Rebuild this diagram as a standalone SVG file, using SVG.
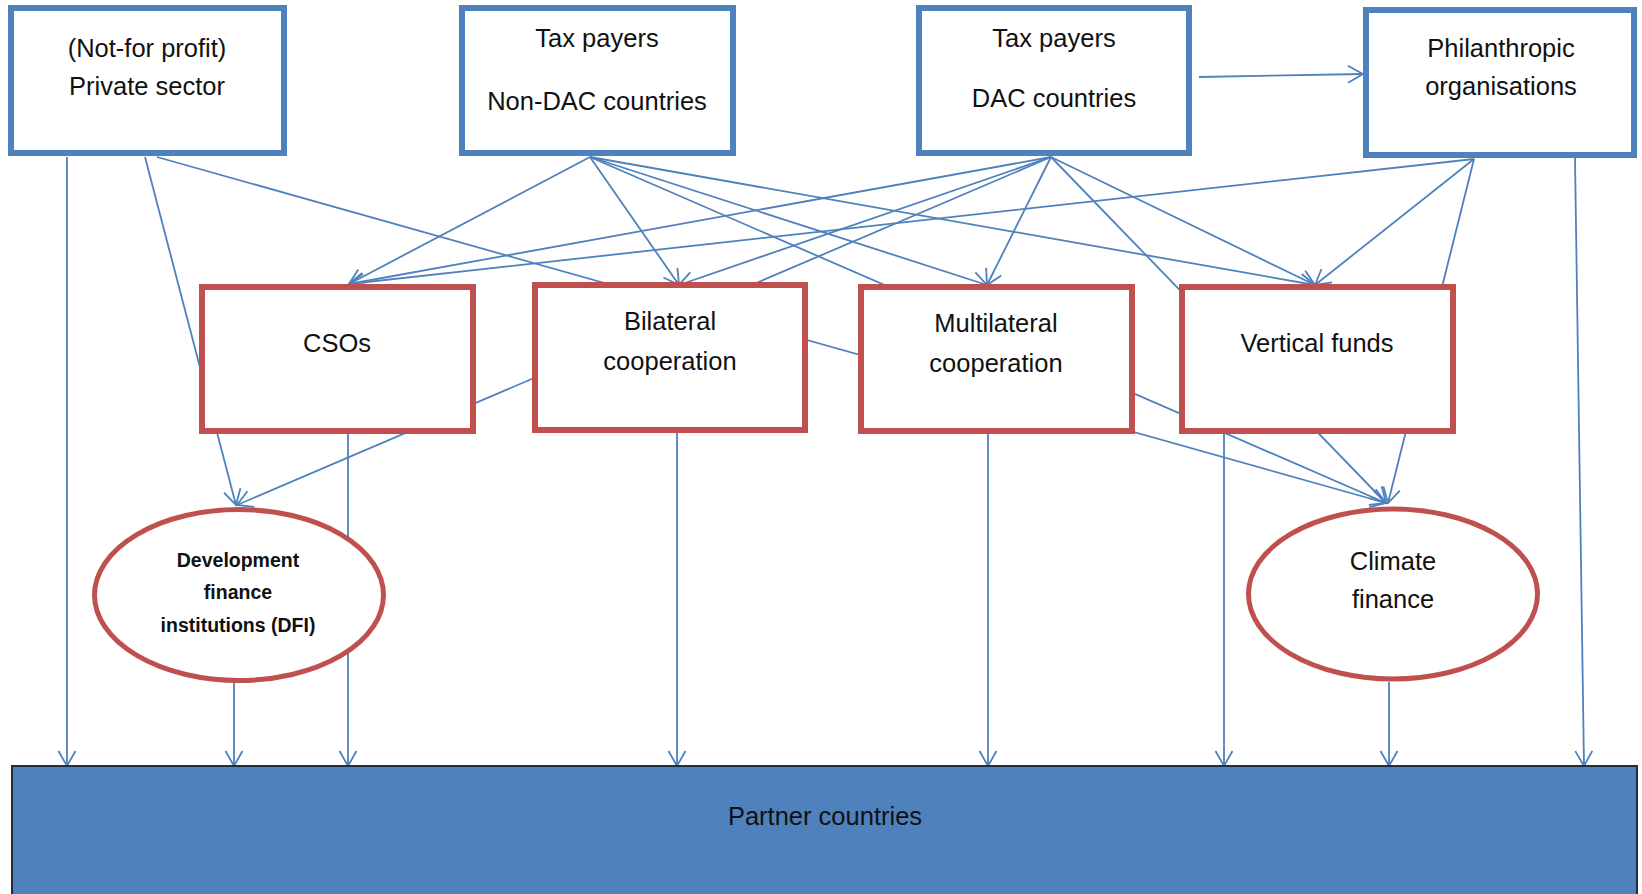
<svg xmlns="http://www.w3.org/2000/svg" width="1642" height="894" viewBox="0 0 1642 894">
<style>
.bg{fill:#ffffff}
.src{fill:#ffffff;stroke:#4F81BD;stroke-width:6}
.mid{fill:#ffffff;stroke:#C0504D;stroke-width:6}
.oval{fill:#ffffff;stroke:#C0504D;stroke-width:5}
.partner{fill:#4F81BD;stroke:#1F2D3D;stroke-width:2}
.c{fill:none;stroke:#4F81BD;stroke-width:1.8}
.a{marker-end:url(#arr)}
text{font-family:"Liberation Sans",Arial,sans-serif;font-size:25.5px;fill:#111111;text-anchor:middle}
.small{font-size:19.5px;font-weight:bold}
</style>
<defs>
<marker id="arr" markerUnits="userSpaceOnUse" markerWidth="18" markerHeight="20" viewBox="0 0 18 20" refX="16" refY="10" orient="auto">
<path d="M1,1.5 L16,10 L1,18.5" fill="none" stroke="#4F81BD" stroke-width="1.8"/>
</marker>
</defs>
<rect class="bg" x="0" y="0" width="1642" height="894"/>
<g id="connectors">
<line class="c a" x1="67" y1="157" x2="67" y2="766"/>
<line class="c a" x1="145" y1="157" x2="236" y2="505"/>
<line class="c a" x1="157" y1="157" x2="1386" y2="503"/>
<line class="c a" x1="590" y1="157" x2="349" y2="284"/>
<line class="c a" x1="590" y1="157" x2="679" y2="285"/>
<line class="c a" x1="590" y1="157" x2="987" y2="285"/>
<line class="c a" x1="590" y1="157" x2="1315" y2="285"/>
<line class="c a" x1="590" y1="157" x2="1386" y2="503"/>
<line class="c a" x1="1051" y1="157" x2="349" y2="284"/>
<line class="c a" x1="1051" y1="157" x2="679" y2="285"/>
<line class="c a" x1="1051" y1="157" x2="237" y2="505"/>
<line class="c a" x1="1051" y1="157" x2="987" y2="285"/>
<line class="c a" x1="1051" y1="157" x2="1315" y2="285"/>
<line class="c a" x1="1051" y1="157" x2="1386" y2="503"/>
<line class="c a" x1="1199" y1="77" x2="1363" y2="74"/>
<line class="c a" x1="1474" y1="159" x2="349" y2="284"/>
<line class="c a" x1="1474" y1="159" x2="1315" y2="285"/>
<line class="c a" x1="1474" y1="159" x2="1388" y2="503"/>
<line class="c a" x1="1575" y1="158" x2="1584" y2="766"/>
<line class="c a" x1="348" y1="434" x2="348" y2="766"/>
<line class="c a" x1="234" y1="683" x2="234" y2="766"/>
<line class="c a" x1="677" y1="433" x2="677" y2="766"/>
<line class="c a" x1="988" y1="434" x2="988" y2="766"/>
<line class="c a" x1="1224" y1="434" x2="1224" y2="766"/>
<line class="c a" x1="1389" y1="682" x2="1389" y2="766"/>
</g>
<g id="private-sector">
<rect class="src" x="11" y="8" width="273" height="145"/>
<text x="147" y="57">(Not-for profit)</text>
<text x="147" y="95">Private sector</text>
</g>
<g id="taxpayers-non-dac">
<rect class="src" x="462" y="8" width="271" height="145"/>
<text x="597" y="47">Tax payers</text>
<text x="597" y="110">Non-DAC countries</text>
</g>
<g id="taxpayers-dac">
<rect class="src" x="919" y="8" width="270" height="145"/>
<text x="1054" y="47">Tax payers</text>
<text x="1054" y="107">DAC countries</text>
</g>
<g id="philanthropic">
<rect class="src" x="1366" y="10" width="268" height="145"/>
<text x="1501" y="57">Philanthropic</text>
<text x="1501" y="95">organisations</text>
</g>
<g id="csos">
<rect class="mid" x="202" y="287" width="271" height="144"/>
<text x="337" y="352">CSOs</text>
</g>
<g id="bilateral">
<rect class="mid" x="535" y="285" width="270" height="145"/>
<text x="670" y="330">Bilateral</text>
<text x="670" y="370">cooperation</text>
</g>
<g id="multilateral">
<rect class="mid" x="861" y="287" width="271" height="144"/>
<text x="996" y="332">Multilateral</text>
<text x="996" y="372">cooperation</text>
</g>
<g id="vertical-funds">
<rect class="mid" x="1182" y="287" width="271" height="144"/>
<text x="1317" y="352">Vertical funds</text>
</g>
<g id="dfi">
<ellipse class="oval" cx="239" cy="595" rx="144.5" ry="85.5"/>
<text class="small" x="238" y="567">Development</text>
<text class="small" x="238" y="599">finance</text>
<text class="small" x="238" y="632">institutions (DFI)</text>
</g>
<g id="climate-finance">
<ellipse class="oval" cx="1393" cy="594" rx="144.5" ry="85"/>
<text x="1393" y="570">Climate</text>
<text x="1393" y="608">finance</text>
</g>
<g id="partner-countries">
<rect class="partner" x="12" y="766" width="1625" height="140"/>
<text x="825" y="825">Partner countries</text>
</g>
</svg>
